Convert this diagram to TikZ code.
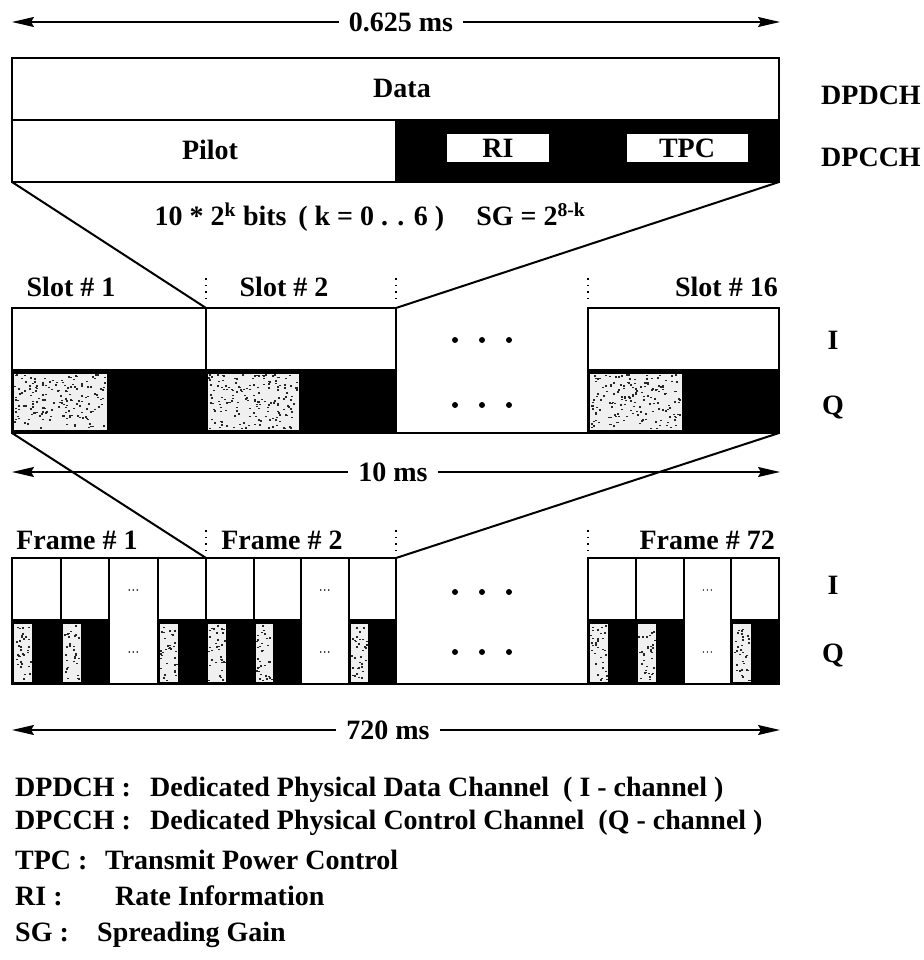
\documentclass[tikz,border=0pt]{standalone}
\usepackage{fontspec}
\setmainfont{Liberation Serif}
\usetikzlibrary{arrows.meta,positioning}
\newcommand{\speckle}[5]{%
  \fill[black!6] (#1,#2) rectangle (#3,#4);
  \foreach \n in {1,...,#5} {
    \pgfmathsetmacro{\spx}{(#1)+rnd*((#3)-(#1)-2)}
    \pgfmathsetmacro{\spy}{(#2)+rnd*((#4)-(#2)-2)}
    \fill[black!85] (\spx,\spy) rectangle ++(2,1.5);
  }%
}

\begin{document}
\begin{tikzpicture}[x=1pt,y=-1pt,
  lbl/.style={font=\fontsize{28}{30}\selectfont\bfseries, inner sep=0pt},
  dimline/.style={-{Stealth[length=22pt,width=10pt,inset=3pt]}, line width=1.8pt},
  frameline/.style={line width=2pt},
  sepdots/.style={line width=1.6pt, dash pattern=on 1.5pt off 5pt}]
\useasboundingbox (0,0) rectangle (923,960);
\pgfmathsetseed{11}

\node[lbl, inner xsep=10pt] (l625) at (401,22) {0.625 ms};
\coordinate (a625l) at (12,22);
\coordinate (a625r) at (780,22);
\draw[dimline] (l625) -- (a625l);
\draw[dimline] (l625) -- (a625r);

\fill (395,120) rectangle (779,182);
\draw[frameline] (12,58) rectangle (779,182);
\draw[frameline] (12,120) -- (779,120);
\node[lbl] (data) at (402,88) {Data};
\node[lbl] (pilot) at (210,150) {Pilot};
\node[lbl, fill=white, minimum width=102pt, minimum height=28pt] (ri) at (498,148) {RI};
\node[lbl, fill=white, minimum width=121pt, minimum height=28pt] (tpc) at (687,148) {TPC};
\node[lbl] (dpdch) at (871,95) {DPDCH};
\node[lbl] (dpcch) at (871,157) {DPCCH};
\node[lbl] (bits) at (370,217) {10 * 2\textsuperscript{k} bits\, ( k = 0 . . 6 )\hspace{0.9em} SG = 2\textsuperscript{8-k}};
\coordinate (topbl) at (12,182);
\coordinate (topbr) at (779,182);

\node[lbl] (slot1) at (71,287) {Slot \# 1};
\node[lbl] (slot2) at (284,287) {Slot \# 2};
\node[lbl, anchor=east] (slot16) at (778,287) {Slot \# 16};
\foreach \x in {206,396,588} \draw[sepdots] (\x,278) -- (\x,301);
\foreach \xa/\xb in {12/206,206/396,588/779} {
  \pgfmathsetmacro{\subs}{\xa+0.49*(\xb-\xa)}
  \fill (\xa,370) rectangle (\xb,433);
  \speckle{\xa+2}{374}{\subs}{430}{170}
  \draw[frameline] (\xa,308) rectangle (\xb,433);
  \draw[frameline] (\xa,370) -- (\xb,370);
}
\draw[frameline] (12,433) -- (779,433);
\foreach \x in {455,482,509} {
  \fill (\x,340) circle (3);
  \fill (\x,405) circle (3);
}
\coordinate (slotml) at (206,308);
\coordinate (slotmr) at (396,308);
\draw[frameline] (topbl) -- (slotml);
\draw[frameline] (topbr) -- (slotmr);
\node[lbl] (si) at (833,340) {I};
\node[lbl] (sq) at (833,407) {Q};

\node[lbl, inner xsep=10pt] (l10) at (393,472) {10 ms};
\coordinate (a10l) at (12,472);
\coordinate (a10r) at (780,472);
\draw[dimline] (l10) -- (a10l);
\draw[dimline] (l10) -- (a10r);

\coordinate (slotbl) at (12,433);
\coordinate (slotbr) at (779,433);
\coordinate (frameml) at (206,558);
\coordinate (framemr) at (396,558);
\draw[frameline] (slotbl) -- (frameml);
\draw[frameline] (slotbr) -- (framemr);

\node[lbl] (frame1) at (77,540) {Frame \# 1};
\node[lbl] (frame2) at (282,540) {Frame \# 2};
\node[lbl, anchor=east] (frame72) at (775,540) {Frame \# 72};
\foreach \x in {206,396,588} \draw[sepdots] (\x,530) -- (\x,553);
\foreach \xa/\xb in {12/206,206/396,588/779} {
  \pgfmathsetmacro{\subw}{(\xb-\xa)/4}
  \foreach \i in {0,1,3} {
    \pgfmathsetmacro{\subl}{\xa+\i*\subw}
    \pgfmathsetmacro{\subr}{\subl+\subw}
    \pgfmathsetmacro{\subs}{\subl+0.42*\subw}
    \fill (\subl,620) rectangle (\subr,684);
    \speckle{\subl+2}{624}{\subs}{682}{34}
    \draw[frameline] (\subl,558) rectangle (\subr,684);
    \draw[frameline] (\subl,620) -- (\subr,620);
  }
  \pgfmathsetmacro{\subl}{\xa+2*\subw}
  \pgfmathsetmacro{\subm}{\subl+\subw/2}
  \draw[frameline] (\subl,558) rectangle (\subl+\subw,684);
  \foreach \d in {-4,0,4} {
    \fill (\subm+\d,590) circle (0.8);
    \fill (\subm+\d,652) circle (0.8);
  }
}
\draw[frameline] (12,684) -- (779,684);
\foreach \x in {455,482,509} {
  \fill (\x,592) circle (3);
  \fill (\x,652) circle (3);
}
\node[lbl] (fi) at (833,585) {I};
\node[lbl] (fq) at (833,655) {Q};

\node[lbl, inner xsep=10pt] (l720) at (388,730) {720 ms};
\coordinate (a720l) at (12,730);
\coordinate (a720r) at (780,730);
\draw[dimline] (l720) -- (a720l);
\draw[dimline] (l720) -- (a720r);

\node[lbl, anchor=base west] (k1) at (15,796) {DPDCH :};
\node[lbl, anchor=base west] (d1) at (150,796) {Dedicated Physical Data Channel\ \ ( I - channel )};
\node[lbl, anchor=base west] (k2) at (15,829) {DPCCH :};
\node[lbl, anchor=base west] (d2) at (150,829) {Dedicated Physical Control Channel\ \ (Q - channel )};
\node[lbl, anchor=base west] (k3) at (15,869) {TPC :};
\node[lbl, anchor=base west] (d3) at (105,869) {Transmit Power Control};
\node[lbl, anchor=base west] (k4) at (15,905) {RI :};
\node[lbl, anchor=base west] (d4) at (115,905) {Rate Information};
\node[lbl, anchor=base west] (d5) at (97,941) {Spreading Gain};
\node[lbl, anchor=base west] (k5) at (15,941) {SG :};
\end{tikzpicture}
\end{document}
